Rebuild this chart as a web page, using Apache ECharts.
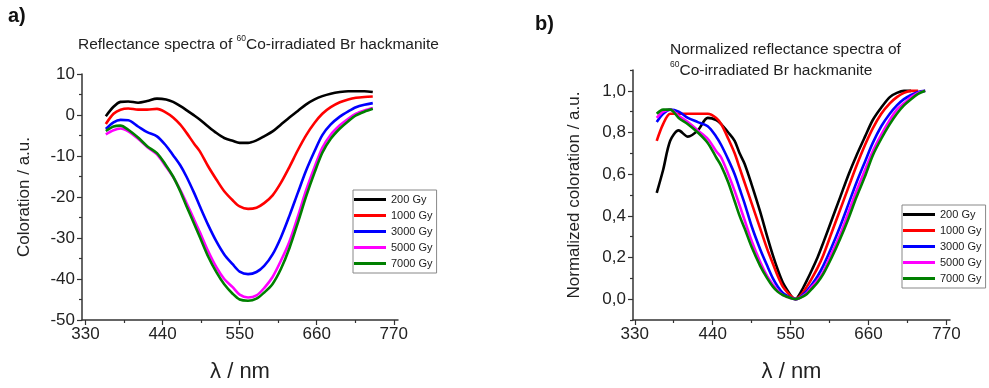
<!DOCTYPE html>
<html>
<head>
<meta charset="utf-8">
<script src="https://cdn.jsdelivr.net/npm/echarts@6/dist/echarts.min.js"></script>
<style>
html, body { margin: 0; padding: 0; background: #fff; }
#main { width: 989px; height: 388px; }
</style>
</head>
<body>
<div id="main"></div>
<script>
// wavelengths (nm) for panel a
var wlLeft = [359, 370, 380, 391, 405, 418, 432, 445, 455, 465, 474, 485, 493, 505, 517, 528, 540, 550,
    562, 574, 585, 597, 609, 621, 633, 645, 657, 668, 680, 693, 705, 716, 728, 740];
var left200 = [-0.3, 2.0, 3.2, 3.3, 3.0, 3.4, 4.0, 3.8, 3.2, 2.2, 1.2, -0.1, -1.1, -2.8, -4.4, -5.6, -6.3, -6.8,
    -6.8, -6.2, -5.2, -4.0, -2.3, -0.6, 1.0, 2.6, 3.8, 4.6, 5.2, 5.6, 5.8, 5.8, 5.8, 5.6];
var left1000 = [-2.2, 0.3, 1.3, 1.6, 1.3, 1.3, 1.5, 0.6, -0.6, -2.3, -4.3, -7.0, -8.8, -12.5, -15.8, -18.6, -20.8, -22.3,
    -22.9, -22.6, -21.5, -19.6, -16.5, -12.7, -8.6, -4.9, -1.9, 0.3, 1.9, 3.1, 3.8, 4.2, 4.4, 4.5];
var left3000 = [-3.4, -1.8, -1.2, -1.3, -2.8, -4.2, -5.2, -7.5, -9.8, -12.2, -15.0, -19.0, -22.2, -26.8, -30.9, -34.0, -36.4, -38.2,
    -38.8, -38.3, -36.8, -34.0, -29.8, -24.6, -19.0, -13.5, -8.8, -4.9, -2.3, -0.4, 0.9, 1.9, 2.5, 2.9];
var left5000 = [-4.7, -3.7, -3.3, -4.0, -5.8, -7.8, -9.6, -12.6, -15.1, -18.2, -21.4, -25.5, -28.5, -33.2, -37.2, -40.0, -42.0, -43.8,
    -44.5, -44.0, -42.2, -39.5, -35.5, -30.9, -24.8, -18.3, -12.7, -8.0, -4.8, -2.5, -0.9, 0.3, 1.1, 1.7];
var left7000 = [-3.9, -2.8, -2.6, -3.6, -5.5, -7.6, -9.3, -12.3, -15.0, -18.5, -22.2, -26.5, -29.7, -34.5, -38.4, -41.3, -43.6, -45.0,
    -45.3, -44.8, -43.3, -41.2, -37.5, -32.5, -26.3, -19.8, -14.0, -9.2, -5.8, -3.3, -1.5, -0.1, 0.8, 1.5];

// wavelengths (nm) for panel b
var wlRight = [361, 370, 380, 392, 405, 419, 433, 445, 452, 462, 471, 478, 485, 495, 507, 517, 525, 532, 539, 546, 552,
    557, 562, 567, 573, 580, 588, 596, 608, 620, 632, 643, 655, 666, 678, 690, 700, 710, 720, 730, 740];
var right200 = [0.51, 0.62, 0.76, 0.81, 0.78, 0.81, 0.87, 0.86, 0.84, 0.80, 0.76, 0.70, 0.65, 0.55, 0.42, 0.30, 0.21, 0.14, 0.08, 0.04, 0.01,
    0.00, 0.02, 0.05, 0.09, 0.14, 0.20, 0.27, 0.38, 0.49, 0.60, 0.69, 0.78, 0.86, 0.92, 0.97, 0.99, 1.00, 1.00];
var right1000 = [0.76, 0.84, 0.89, 0.89, 0.89, 0.89, 0.89, 0.87, 0.84, 0.77, 0.70, 0.63, 0.56, 0.46, 0.34, 0.24, 0.17, 0.11, 0.06, 0.03, 0.01,
    0.00, 0.01, 0.03, 0.06, 0.10, 0.15, 0.21, 0.32, 0.43, 0.54, 0.64, 0.74, 0.82, 0.89, 0.94, 0.97, 0.99, 1.00, 1.00];
var right3000 = [0.85, 0.89, 0.91, 0.90, 0.87, 0.85, 0.83, 0.78, 0.74, 0.67, 0.60, 0.53, 0.46, 0.35, 0.24, 0.16, 0.10, 0.06, 0.03, 0.015, 0.005,
    0.00, 0.005, 0.02, 0.04, 0.07, 0.11, 0.16, 0.25, 0.35, 0.46, 0.56, 0.66, 0.75, 0.83, 0.89, 0.93, 0.96, 0.98, 0.995, 1.00];
var right5000 = [0.87, 0.90, 0.91, 0.88, 0.85, 0.81, 0.77, 0.71, 0.68, 0.60, 0.52, 0.45, 0.38, 0.28, 0.18, 0.11, 0.07, 0.04, 0.02, 0.01, 0.003,
    0.00, 0.004, 0.015, 0.03, 0.06, 0.09, 0.13, 0.22, 0.31, 0.42, 0.52, 0.62, 0.71, 0.79, 0.86, 0.91, 0.94, 0.97, 0.99, 1.00];
var right7000 = [0.89, 0.91, 0.91, 0.87, 0.84, 0.80, 0.75, 0.68, 0.64, 0.56, 0.47, 0.40, 0.34, 0.25, 0.16, 0.10, 0.06, 0.035, 0.02, 0.01, 0.003,
    0.00, 0.004, 0.012, 0.025, 0.05, 0.08, 0.12, 0.20, 0.29, 0.39, 0.49, 0.59, 0.69, 0.77, 0.84, 0.89, 0.93, 0.96, 0.985, 1.00];

var doseNames = ['200 Gy', '1000 Gy', '3000 Gy', '5000 Gy', '7000 Gy'];
var doseColors = ['#000000', '#ff0000', '#0000ff', '#ff00ff', '#008000'];
var xTicks = [330, 440, 550, 660, 770];
var xMinorTicks = [385, 495, 605, 715];
var yTicksRight = [0, 0.2, 0.4, 0.6, 0.8, 1.0];
var yMinorTicksRight = [-0.1, 0.1, 0.3, 0.5, 0.7, 0.9, 1.1];

var font = 'Liberation Sans, Arial, sans-serif';
var axisColor = '#333';

function pairs(xs, ys) {
    var out = [];
    for (var i = 0; i < ys.length; i++) out.push([xs[i], ys[i]]);
    return out;
}

function mainX(grid, min, max) {
    return {
        type: 'value', gridIndex: grid, min: min, max: max, position: 'bottom',
        name: 'λ / nm', nameLocation: 'middle', nameGap: 41,
        nameTextStyle: {fontSize: 22, color: '#222', fontFamily: font},
        axisLine: {onZero: false, lineStyle: {color: axisColor, width: 1.5}},
        axisTick: {customValues: xTicks, length: 5, lineStyle: {color: axisColor, width: 1.2}},
        axisLabel: {customValues: xTicks, fontSize: 17, color: '#222', fontFamily: font, margin: 6},
        splitLine: {show: false}
    };
}

function minorX(grid, min, max) {
    return {
        type: 'value', gridIndex: grid, min: min, max: max, position: 'bottom',
        axisLine: {show: false, onZero: false},
        axisTick: {customValues: xMinorTicks, length: 3, lineStyle: {color: axisColor, width: 1.2}},
        axisLabel: {show: false},
        splitLine: {show: false}
    };
}

var leftData = [left200, left1000, left3000, left5000, left7000];
var rightData = [right200, right1000, right3000, right5000, right7000];

var series = [];
doseNames.forEach(function (n, i) {
    series.push({
        name: n, type: 'line', xAxisIndex: 0, yAxisIndex: 0,
        data: pairs(wlLeft, leftData[i]), showSymbol: false, smooth: 0.3,
        lineStyle: {color: doseColors[i], width: 2.6}, itemStyle: {color: doseColors[i]}
    });
});
doseNames.forEach(function (n, i) {
    series.push({
        name: n, type: 'line', xAxisIndex: 2, yAxisIndex: 1,
        data: pairs(wlRight, rightData[i]), showSymbol: false, smooth: 0.3,
        lineStyle: {color: doseColors[i], width: 2.6}, itemStyle: {color: doseColors[i]}
    });
});

function legendAt(left, top) {
    return {
        data: doseNames, left: left, top: top, orient: 'vertical',
        icon: 'rect', itemWidth: 32, itemHeight: 3, itemGap: 3,
        padding: [3, 4, 3, 1], borderColor: '#888', borderWidth: 1,
        textStyle: {fontSize: 11, color: '#222', fontFamily: font, lineHeight: 13},
        selectedMode: false
    };
}

var titleRich = {
    t: {fontSize: 15.5, fontWeight: 'normal', color: '#222', fontFamily: font, lineHeight: 21},
    s: {fontSize: 8.5, fontWeight: 'normal', color: '#222', fontFamily: font, verticalAlign: 'top', lineHeight: 21, padding: [0, 0, 6, 0]}
};

var myChart = echarts.init(document.getElementById('main'));
var option = {
    animation: false,
    backgroundColor: '#fff',
    title: [
        {text: 'a)', left: 8, top: 6, padding: 0, textStyle: {fontSize: 20, fontWeight: 'bold', color: '#111', fontFamily: font}},
        {text: 'b)', left: 535, top: 14, padding: 0, textStyle: {fontSize: 20, fontWeight: 'bold', color: '#111', fontFamily: font}},
        {text: '{t|Reflectance spectra of }{s|60}{t|Co-irradiated Br hackmanite}', left: 78, top: 34, padding: 0,
            textStyle: {fontWeight: 'normal', rich: titleRich}},
        {text: '{t|Normalized reflectance spectra of}\n{s|60}{t|Co-irradiated Br hackmanite}', left: 670, top: 39, padding: 0,
            textStyle: {fontWeight: 'normal', rich: titleRich}}
    ],
    legend: [legendAt(353, 190), legendAt(902, 205)],
    grid: [
        {left: 82, top: 74, width: 316, height: 253},
        {left: 633, top: 70, width: 317, height: 255}
    ],
    xAxis: [mainX(0, 325, 776), minorX(0, 325, 776), mainX(1, 327.5, 775), minorX(1, 327.5, 775)],
    yAxis: [
        {
            type: 'value', gridIndex: 0, min: -50, max: 10, interval: 10,
            name: 'Coloration / a.u.', nameLocation: 'middle', nameGap: 49,
            nameTextStyle: {fontSize: 17, color: '#222', fontFamily: font},
            axisLine: {show: true, onZero: false, lineStyle: {color: axisColor, width: 1.5}},
            axisTick: {show: true, length: 5, lineStyle: {color: axisColor, width: 1.2}},
            minorTick: {show: true, splitNumber: 2, length: 3, lineStyle: {color: axisColor, width: 1.2}},
            axisLabel: {fontSize: 17, color: '#222', fontFamily: font, margin: 7},
            splitLine: {show: false}
        },
        {
            type: 'value', gridIndex: 1, min: -0.1, max: 1.1,
            name: 'Normalized coloration / a.u.', nameLocation: 'middle', nameGap: 50,
            nameTextStyle: {fontSize: 17, color: '#222', fontFamily: font},
            axisLine: {show: true, onZero: false, lineStyle: {color: axisColor, width: 1.5}},
            axisTick: {show: true, customValues: yTicksRight, length: 5, lineStyle: {color: axisColor, width: 1.2}},
            axisLabel: {customValues: yTicksRight, fontSize: 17, color: '#222', fontFamily: font, margin: 7,
                formatter: function (v) { return v.toFixed(1).replace('.', ','); }},
            splitLine: {show: false}
        },
        {
            type: 'value', gridIndex: 1, min: -0.1, max: 1.1, position: 'left',
            axisLine: {show: false, onZero: false},
            axisTick: {show: true, customValues: yMinorTicksRight, length: 3, lineStyle: {color: axisColor, width: 1.2}},
            axisLabel: {show: false},
            splitLine: {show: false}
        }
    ],
    series: series
};
myChart.setOption(option);
</script>
</body>
</html>
